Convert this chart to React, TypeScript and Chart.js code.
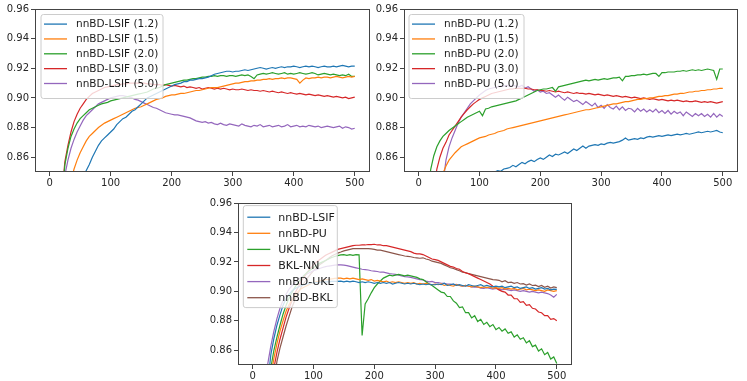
import React, { useEffect, useRef } from "react";
import { Chart, registerables } from "chart.js";

Chart.register(...registerables);

// ---------- data ----------
const EPOCHS = [
  5, 10, 15, 20, 25, 30, 35, 40, 45, 50, 55, 60, 65, 70, 75, 80, 85, 90, 95, 100,
  105, 110, 115, 120, 125, 130, 135, 140, 145, 150, 155, 160, 165, 170, 175, 180, 185, 190, 195, 200,
  205, 210, 215, 220, 225, 230, 235, 240, 245, 250, 255, 260, 265, 270, 275, 280, 285, 290, 295, 300,
  305, 310, 315, 320, 325, 330, 335, 340, 345, 350, 355, 360, 365, 370, 375, 380, 385, 390, 395, 400,
  405, 410, 415, 420, 425, 430, 435, 440, 445, 450, 455, 460, 465, 470, 475, 480, 485, 490, 495, 500,
];
const X_TICKS = [0, 100, 200, 300, 400, 500];
const Y_TICKS = [0.86, 0.88, 0.9, 0.92, 0.94, 0.96];

const LSIF_LABELS = ["nnBD-LSIF (1.2)", "nnBD-LSIF (1.5)", "nnBD-LSIF (2.0)", "nnBD-LSIF (3.0)", "nnBD-LSIF (5.0)"];
const PU_LABELS = ["nnBD-PU (1.2)", "nnBD-PU (1.5)", "nnBD-PU (2.0)", "nnBD-PU (3.0)", "nnBD-PU (5.0)"];
const CMP_LABELS = ["nnBD-LSIF", "nnBD-PU", "UKL-NN", "BKL-NN", "nnBD-UKL", "nnBD-BKL"];

const LSIF_12 = [
  .60, .66, .71, .75, .78, .80, .815, .827, .836, .842, .847, .851, .855, .860, .864, .868, .871, .873, .875, .877,
  .879, .882, .884, .886, .887, .889, .891, .892, .894, .896, .898, .900, .901, .902, .903, .904, .905, .906, .907, .908,
  .909, .9095, .910, .911, .911, .912, .912, .9125, .913, .913, .9135, .914, .915, .916, .9165, .917, .9175, .918, .918, .9175,
  .918, .918, .9185, .919, .9185, .919, .9195, .920, .9205, .920, .9195, .920, .9205, .920, .9205, .921, .9205, .921, .921, .9215,
  .921, .9205, .921, .9215, .921, .9215, .921, .9205, .921, .9215, .921, .921, .9215, .921, .9215, .922, .9215, .921, .9215, .9215,
];
const LSIF_15 = [
  .70, .74, .77, .795, .815, .831, .844, .852, .858, .863, .867, .871, .874, .876, .878, .880, .8815, .883, .884, .885,
  .886, .887, .888, .889, .890, .891, .892, .893, .8935, .894, .895, .896, .897, .898, .899, .8995, .900, .901, .9015, .902,
  .902, .9025, .903, .903, .9035, .904, .9045, .905, .905, .9055, .906, .9065, .907, .907, .907, .9075, .908, .9085, .909, .9095,
  .910, .910, .9105, .911, .911, .9115, .9115, .912, .912, .9125, .9125, .913, .9125, .913, .913, .9135, .913, .9135, .9135, .913,
  .9125, .910, .912, .9135, .913, .9135, .9135, .914, .9135, .914, .914, .9135, .914, .9145, .914, .9135, .914, .9145, .914, .9145,
];
const LSIF_20 = [
  .72, .77, .80, .83, .855, .866, .874, .879, .883, .886, .888, .890, .892, .893, .894, .895, .896, .8965, .897, .898,
  .8985, .899, .8995, .900, .9005, .901, .9015, .902, .9025, .903, .9035, .904, .905, .906, .9065, .907, .908, .909, .9095, .910,
  .9105, .911, .9115, .912, .912, .9125, .913, .913, .9135, .914, .914, .9145, .9145, .915, .9145, .915, .915, .9145, .915, .915,
  .9145, .915, .9155, .915, .9155, .9145, .913, .9155, .916, .9165, .916, .9165, .917, .9165, .916, .9165, .917, .916, .9165, .916,
  .9165, .917, .9165, .916, .9165, .917, .9165, .9155, .916, .9165, .916, .9155, .916, .9155, .915, .9155, .915, .916, .9145, .9145,
];
const LSIF_30 = [
  .70, .76, .80, .835, .857, .868, .877, .884, .889, .893, .896, .899, .901, .903, .904, .905, .906, .907, .9075, .908,
  .9085, .909, .909, .9095, .9095, .910, .910, .910, .910, .910, .910, .9095, .9095, .909, .909, .909, .9085, .909, .9085, .908,
  .9085, .908, .9075, .908, .907, .9075, .907, .9065, .907, .906, .9065, .907, .9065, .906, .9065, .906, .9065, .906, .9055, .906,
  .9055, .9055, .906, .9055, .905, .9055, .905, .905, .9045, .905, .9045, .904, .9045, .904, .9035, .904, .9035, .903, .9035, .903,
  .9025, .903, .9025, .902, .9025, .902, .9015, .902, .9015, .901, .9015, .901, .9005, .901, .9005, .900, .9005, .8995, .900, .9005,
];
const LSIF_50 = [
  .68, .74, .785, .815, .848, .858, .866, .872, .877, .881, .885, .888, .890, .892, .894, .896, .897, .898, .899, .900,
  .9005, .901, .9015, .9015, .901, .9005, .900, .899, .8985, .8975, .8965, .8955, .8945, .8935, .893, .892, .891, .890, .8895, .889,
  .8885, .8885, .888, .8875, .887, .8865, .8855, .8845, .884, .8835, .884, .883, .8835, .8825, .882, .883, .882, .8815, .8825, .882,
  .8815, .881, .8825, .8815, .881, .8805, .8815, .881, .882, .8805, .881, .8815, .8805, .881, .8815, .8805, .881, .882, .8805, .881,
  .8815, .8805, .881, .8805, .8815, .881, .8805, .881, .880, .8805, .881, .8805, .880, .8805, .881, .8795, .8805, .880, .879, .8795,
];

const PU_12 = [
  .62, .66, .69, .715, .735, .752, .767, .779, .789, .798, .806, .813, .819, .824, .829, .833, .836, .839, .842, .844,
  .846, .847, .848, .849, .850, .851, .8505, .852, .8525, .853, .8545, .8535, .855, .8565, .8555, .857, .858, .857, .8585, .8595,
  .8585, .860, .8615, .8605, .862, .8615, .8625, .8635, .8625, .864, .8655, .8645, .866, .8675, .866, .8675, .868, .8685, .868, .869,
  .8685, .8695, .870, .8695, .870, .8705, .8715, .873, .8715, .872, .8725, .872, .873, .8725, .8735, .874, .8735, .874, .8745, .874,
  .8745, .875, .8745, .875, .8755, .875, .8755, .876, .8755, .876, .8765, .877, .8765, .877, .8775, .877, .8775, .878, .877, .8765,
];
const PU_15 = [
  .70, .73, .76, .785, .805, .822, .837, .849, .854, .858, .8605, .863, .865, .867, .868, .869, .870, .871, .872, .873,
  .8735, .874, .875, .8755, .876, .877, .8775, .878, .879, .8795, .880, .8805, .881, .8815, .882, .8825, .883, .8835, .884, .8845,
  .885, .8855, .886, .8865, .887, .8875, .888, .8885, .889, .8895, .890, .8905, .891, .8915, .892, .892, .8925, .893, .8935, .894,
  .8945, .895, .8955, .896, .896, .8965, .897, .8975, .8975, .898, .8985, .899, .899, .8995, .8995, .900, .900, .9005, .901, .901,
  .9015, .9015, .902, .9025, .9025, .903, .903, .9035, .904, .904, .9045, .9045, .905, .905, .9055, .9055, .906, .906, .9065, .9065,
];
const PU_20 = [
  .76, .80, .835, .852, .861, .867, .871, .874, .876, .878, .8795, .881, .8825, .884, .8855, .887, .888, .889, .890, .891,
  .888, .8925, .893, .894, .8945, .895, .8955, .896, .8965, .897, .8975, .898, .899, .900, .901, .902, .903, .904, .905, .9055,
  .906, .906, .9065, .907, .9045, .9075, .908, .9085, .909, .9095, .910, .9105, .911, .9115, .912, .9115, .912, .9125, .912, .9125,
  .913, .9125, .913, .9135, .9135, .914, .9115, .9145, .9145, .915, .915, .9155, .9155, .916, .9155, .916, .9165, .9165, .9145, .917,
  .917, .9175, .9175, .9175, .918, .918, .9185, .918, .9185, .919, .9185, .919, .9185, .919, .9195, .919, .9185, .9125, .9195, .9195,
];
const PU_30 = [
  .72, .76, .79, .815, .838, .852, .860, .866, .870, .875, .878, .881, .884, .887, .8895, .892, .894, .896, .8975, .899,
  .900, .901, .902, .903, .9035, .904, .9045, .905, .9055, .906, .906, .9065, .9065, .9065, .9065, .906, .906, .9055, .9055, .905,
  .905, .9045, .905, .9045, .904, .9045, .904, .9035, .904, .9035, .903, .9035, .903, .903, .9025, .903, .9025, .902, .9025, .902,
  .9015, .902, .9015, .901, .9015, .901, .9005, .901, .9005, .900, .9005, .900, .8995, .900, .8995, .899, .8995, .899, .8985, .899,
  .8985, .898, .8985, .898, .8985, .898, .8975, .898, .8975, .8975, .898, .8975, .897, .8975, .897, .8975, .897, .8965, .897, .8975,
];
const PU_50 = [
  .62, .67, .71, .745, .775, .80, .822, .842, .858, .867, .873, .878, .883, .887, .890, .893, .896, .898, .900, .902,
  .9035, .905, .906, .9065, .907, .9075, .908, .908, .9085, .908, .9085, .908, .9075, .9085, .9065, .9075, .906, .9045, .9055, .904,
  .9045, .903, .9035, .902, .9005, .902, .900, .8985, .9005, .899, .8975, .8985, .897, .8955, .8975, .896, .8945, .8965, .8935, .895,
  .893, .8955, .8935, .8925, .8945, .892, .894, .8915, .893, .8925, .8905, .893, .891, .8925, .8905, .892, .8905, .8925, .890, .8915,
  .8895, .8915, .889, .891, .8895, .8905, .888, .8905, .889, .8875, .8895, .888, .8895, .8875, .889, .887, .8895, .887, .889, .8875,
];

const CMP_LSIF = [
  .70, .74, .775, .805, .838, .857, .868, .877, .884, .8905, .895, .898, .9005, .902, .903, .904, .9045, .905, .9055, .906,
  .906, .9062, .9065, .9065, .9065, .9068, .9068, .9068, .907, .9065, .907, .9065, .907, .9065, .906, .9065, .906, .9065, .906, .9055,
  .906, .9055, .906, .9055, .906, .905, .9055, .906, .9055, .905, .9055, .905, .9055, .905, .9045, .905, .9045, .905, .9045, .9045,
  .905, .9045, .9055, .904, .9045, .905, .904, .9045, .904, .9035, .9045, .904, .9035, .904, .9045, .9035, .904, .9035, .903, .9035,
  .903, .9035, .9025, .903, .9035, .9025, .903, .902, .9025, .903, .902, .9025, .9015, .902, .9025, .9015, .902, .901, .9015, .9013,
];
const CMP_PU = [
  .66, .70, .735, .77, .80, .842, .8545, .8645, .873, .880, .8865, .891, .8945, .8975, .900, .9018, .903, .904, .905, .906,
  .9065, .907, .9075, .908, .9082, .9085, .9088, .909, .909, .9085, .909, .9085, .909, .9085, .908, .9085, .908, .9075, .908, .907,
  .9075, .907, .9065, .907, .906, .9065, .906, .9065, .906, .9055, .906, .9055, .906, .905, .9055, .905, .9055, .905, .9045, .905,
  .9045, .905, .904, .9045, .904, .9035, .9045, .904, .9035, .904, .9035, .903, .9035, .903, .9025, .903, .9025, .903, .902, .9025,
  .902, .9025, .9015, .902, .9015, .902, .901, .9015, .902, .901, .9015, .901, .9005, .901, .9005, .900, .901, .9005, .900, .9005,
];
const CMP_UKLNN = [
  .68, .72, .76, .79, .82, .848, .860, .869, .877, .8845, .8905, .8955, .8995, .903, .906, .9085, .911, .913, .9145, .916,
  .9175, .919, .920, .921, .922, .923, .9237, .9243, .9248, .925, .9245, .925, .9245, .925, .9248, .870, .8915, .895, .899, .9025,
  .905, .907, .909, .910, .911, .9105, .911, .9115, .911, .9105, .911, .9105, .910, .9095, .9085, .908, .9065, .905, .904, .9025,
  .901, .8995, .899, .8965, .8965, .8935, .892, .889, .8895, .8855, .8855, .882, .8835, .8795, .881, .8775, .879, .876, .8775, .874,
  .8755, .873, .8745, .8715, .8725, .869, .8705, .8675, .8685, .865, .8665, .8625, .8635, .8595, .861, .857, .8585, .854, .8555, .851,
];
const CMP_BKLNN = [
  .62, .66, .70, .74, .775, .81, .848, .8585, .8675, .875, .8825, .8885, .894, .899, .903, .907, .910, .913, .9155, .918,
  .920, .9215, .923, .9245, .9255, .9265, .9275, .9285, .929, .9295, .930, .9305, .931, .9313, .9313, .9315, .9315, .9318, .9318, .932,
  .9315, .9315, .931, .931, .9305, .930, .9295, .929, .9285, .928, .9275, .927, .926, .9255, .9255, .925, .924, .923, .922, .9215,
  .921, .920, .919, .918, .917, .9165, .9155, .915, .9135, .9125, .912, .911, .910, .909, .908, .907, .906, .905, .9035, .9025,
  .901, .900, .8995, .8975, .8975, .895, .895, .8925, .893, .8905, .891, .8885, .888, .886, .8855, .8835, .8835, .881, .8815, .880,
];
const CMP_UKL = [
  .70, .745, .78, .815, .851, .863, .873, .8815, .8885, .894, .898, .9015, .904, .906, .908, .9095, .911, .912, .913, .914,
  .9148, .9155, .9162, .9168, .9172, .9175, .9178, .918, .918, .9178, .9175, .917, .9165, .916, .9155, .915, .9148, .9145, .914, .9138,
  .9135, .913, .913, .9125, .912, .9118, .9115, .911, .9105, .910, .9098, .9095, .909, .9085, .908, .9078, .907, .9065, .9068, .906,
  .906, .9055, .9055, .905, .905, .9045, .9048, .904, .9035, .904, .9035, .903, .9028, .903, .9022, .902, .9025, .902, .9015, .902,
  .9015, .901, .9015, .901, .9005, .901, .9005, .900, .9005, .900, .8995, .900, .8995, .899, .8995, .899, .8985, .8975, .896, .898,
];
const CMP_BKL = [
  .60, .64, .68, .72, .755, .79, .838, .8525, .8615, .869, .8765, .883, .8895, .8945, .899, .903, .906, .909, .9115, .914,
  .916, .918, .9195, .921, .9225, .924, .925, .926, .9267, .9275, .928, .9285, .929, .929, .929, .929, .929, .929, .9288, .9285,
  .928, .928, .9275, .927, .9265, .926, .9255, .925, .9245, .924, .9238, .9235, .923, .9228, .9225, .9228, .922, .9215, .9205, .920,
  .9195, .919, .918, .917, .916, .9155, .9148, .914, .913, .9128, .912, .9115, .911, .9105, .910, .9095, .909, .9085, .908, .9078,
  .9075, .9065, .9072, .906, .9062, .9055, .906, .905, .9052, .9043, .905, .904, .9042, .9033, .904, .9028, .9035, .9022, .903, .9025,
];

const COLORS = ["#1f77b4", "#ff7f0e", "#2ca02c", "#d62728", "#9467bd", "#8c564b"];

// ---------- layout ----------
type LegendOpts = {
  dx: number; dy: number; w: number; h: number;
  row0: number; rowH: number; l0: number; l1: number; tx: number; font: number;
};
type Panel = {
  left: number; top: number; width: number; height: number;
  yW: number; padTop: number; padRight: number; xH: number;
  labels: string[]; series: number[][]; legend: LegendOpts;
};

const PANELS: Panel[] = [
  {
    left: 0, top: 0, width: 373, height: 190, yW: 35, padTop: 9, padRight: 3, xH: 18,
    labels: LSIF_LABELS, series: [LSIF_12, LSIF_15, LSIF_20, LSIF_30, LSIF_50],
    legend: { dx: 6, dy: 5.5, w: 122, h: 84, row0: 9.6, rowH: 14.85, l0: 3, l1: 26, tx: 35, font: 10.5 },
  },
  {
    left: 373, top: 0, width: 374, height: 190, yW: 31, padTop: 9, padRight: 9, xH: 18,
    labels: PU_LABELS, series: [PU_12, PU_15, PU_20, PU_30, PU_50],
    legend: { dx: 5, dy: 5.5, w: 115, h: 84, row0: 9.6, rowH: 14.85, l0: 3, l1: 26, tx: 35, font: 10.5 },
  },
  {
    left: 190, top: 190, width: 400, height: 191, yW: 48, padTop: 13, padRight: 18, xH: 16,
    labels: CMP_LABELS, series: [CMP_LSIF, CMP_PU, CMP_UKLNN, CMP_BKLNN, CMP_UKL, CMP_BKL],
    legend: { dx: 5.3, dy: 2.6, w: 94, h: 102, row0: 11.6, rowH: 16.1, l0: 4, l1: 27, tx: 35, font: 11 },
  },
];

const FONT = "'DejaVu Sans', 'Liberation Sans', sans-serif";

const boxLegend = {
  id: "boxLegend",
  afterDatasetsDraw(chart: any, _args: any, opts: any) {
    const { ctx, chartArea } = chart;
    const x = chartArea.left + opts.dx;
    const y = chartArea.top + opts.dy;
    const r = 2.5;
    ctx.save();
    ctx.beginPath();
    ctx.moveTo(x + r, y);
    ctx.lineTo(x + opts.w - r, y);
    ctx.arcTo(x + opts.w, y, x + opts.w, y + r, r);
    ctx.lineTo(x + opts.w, y + opts.h - r);
    ctx.arcTo(x + opts.w, y + opts.h, x + opts.w - r, y + opts.h, r);
    ctx.lineTo(x + r, y + opts.h);
    ctx.arcTo(x, y + opts.h, x, y + opts.h - r, r);
    ctx.lineTo(x, y + r);
    ctx.arcTo(x, y, x + r, y, r);
    ctx.closePath();
    ctx.fillStyle = "rgba(255,255,255,0.8)";
    ctx.fill();
    ctx.strokeStyle = "#cccccc";
    ctx.lineWidth = 1;
    ctx.stroke();
    chart.data.datasets.forEach((ds: any, i: number) => {
      const cy = y + opts.row0 + i * opts.rowH;
      ctx.beginPath();
      ctx.strokeStyle = ds.borderColor;
      ctx.lineWidth = 1.3;
      ctx.moveTo(x + opts.l0, cy);
      ctx.lineTo(x + opts.l1, cy);
      ctx.stroke();
      ctx.fillStyle = "#1a1a1a";
      ctx.font = `${opts.font}px ${FONT}`;
      ctx.textBaseline = "middle";
      ctx.textAlign = "left";
      ctx.fillText(ds.label, x + opts.tx, cy + 0.5);
    });
    ctx.restore();
  },
};

const frame = {
  id: "frame",
  afterDraw(chart: any) {
    const { ctx, chartArea } = chart;
    ctx.save();
    ctx.strokeStyle = "#444444";
    ctx.lineWidth = 1;
    ctx.strokeRect(
      Math.round(chartArea.left) + 0.5,
      Math.round(chartArea.top) + 0.5,
      Math.round(chartArea.right - chartArea.left) - 1,
      Math.round(chartArea.bottom - chartArea.top) - 1
    );
    ctx.restore();
  },
};

function buildChart(canvas: HTMLCanvasElement, p: Panel) {
  return new Chart(canvas, {
    type: "line",
    data: {
      datasets: p.series.map((vals, i) => ({
        label: p.labels[i],
        data: EPOCHS.map((e, j) => ({ x: e, y: vals[j] })),
        borderColor: COLORS[i],
        backgroundColor: COLORS[i],
        borderWidth: 1.2,
        pointRadius: 0,
        tension: 0,
        fill: false,
      })),
    },
    options: {
      animation: false,
      responsive: false,
      devicePixelRatio: 1,
      events: [],
      layout: { padding: { top: p.padTop, right: p.padRight, left: 0, bottom: 0 } },
      plugins: {
        legend: { display: false },
        tooltip: { enabled: false },
        boxLegend: p.legend,
      } as any,
      scales: {
        x: {
          type: "linear",
          min: -24,
          max: 525,
          afterBuildTicks: (s: any) => {
            s.ticks = X_TICKS.map((v) => ({ value: v }));
          },
          afterFit: (s: any) => {
            s.height = p.xH;
          },
          grid: { drawOnChartArea: false, drawTicks: true, tickLength: 4, color: "#444444" },
          border: { display: false },
          ticks: {
            font: { family: FONT, size: 10 },
            color: "#262626",
            padding: 1,
            maxRotation: 0,
            autoSkip: false,
            callback: (v: any) => String(v),
          },
        },
        y: {
          type: "linear",
          min: 0.85,
          max: 0.96,
          afterBuildTicks: (s: any) => {
            s.ticks = Y_TICKS.map((v) => ({ value: v }));
          },
          afterFit: (s: any) => {
            s.width = p.yW;
          },
          grid: { drawOnChartArea: false, drawTicks: true, tickLength: 4, color: "#444444" },
          border: { display: false },
          ticks: {
            font: { family: FONT, size: 10 },
            color: "#262626",
            padding: 2,
            autoSkip: false,
            callback: (v: any) => Number(v).toFixed(2),
          },
        },
      },
    } as any,
    plugins: [boxLegend, frame],
  });
}

export default function App() {
  const refs = useRef<(HTMLCanvasElement | null)[]>([]);
  useEffect(() => {
    const charts = PANELS.map((p, i) => buildChart(refs.current[i] as HTMLCanvasElement, p));
    return () => charts.forEach((c) => c.destroy());
  }, []);
  return (
    <div style={{ position: "absolute", left: 0, top: 0, width: 747, height: 381, background: "#fff", overflow: "hidden" }}>
      {PANELS.map((p, i) => (
        <canvas
          key={i}
          ref={(el) => { refs.current[i] = el; }}
          width={p.width}
          height={p.height}
          style={{ position: "absolute", left: p.left, top: p.top, width: p.width, height: p.height }}
        />
      ))}
    </div>
  );
}
